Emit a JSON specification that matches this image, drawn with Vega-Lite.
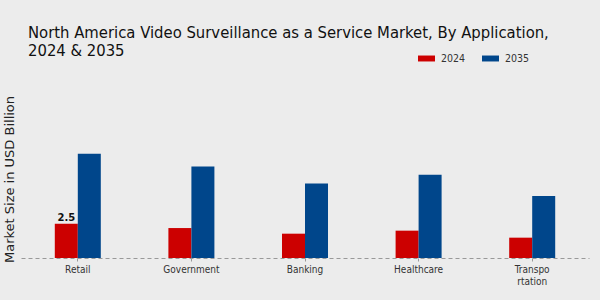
{
  "$schema": "https://vega.github.io/schema/vega-lite/v6.json",
  "autosize": "none",
  "width": 568,
  "height": 158,
  "padding": {"left": 21, "top": 100, "right": 11, "bottom": 42},
  "background": "#ececec",
  "title": {
    "text": ["North America Video Surveillance as a Service Market, By Application,", "2024 & 2035"],
    "anchor": "start",
    "frame": "group",
    "font": "DejaVu Sans Condensed",
    "fontSize": 16.5,
    "fontWeight": "normal",
    "color": "#111111",
    "dx": 7,
    "offset": -9,
    "lineHeight": 18
  },
  "config": {"view": {"stroke": null}},
  "data": {
    "values": [
      {"application": "Retail", "year": "2024", "value": 2.5, "label": "2.5"},
      {"application": "Retail", "year": "2035", "value": 7.59, "label": ""},
      {"application": "Government", "year": "2024", "value": 2.18, "label": ""},
      {"application": "Government", "year": "2035", "value": 6.66, "label": ""},
      {"application": "Banking", "year": "2024", "value": 1.77, "label": ""},
      {"application": "Banking", "year": "2035", "value": 5.43, "label": ""},
      {"application": "Healthcare", "year": "2024", "value": 1.99, "label": ""},
      {"application": "Healthcare", "year": "2035", "value": 6.06, "label": ""},
      {"application": "Transportation", "year": "2024", "value": 1.48, "label": ""},
      {"application": "Transportation", "year": "2035", "value": 4.51, "label": ""}
    ]
  },
  "encoding": {
    "x": {
      "field": "application",
      "type": "nominal",
      "sort": null,
      "scale": {"paddingInner": 0.595, "paddingOuter": 0.2975},
      "axis": {
        "title": null,
        "labelAngle": 0,
        "labelFont": "DejaVu Sans Condensed",
        "labelFontSize": 10,
        "labelColor": "#333333",
        "labelPadding": 3,
        "labelExpr": "datum.label == 'Transportation' ? ['Transpo', 'rtation'] : datum.label",
        "domainDash": [4, 3],
        "domainColor": "#999999",
        "domainWidth": 1,
        "ticks": true,
        "tickSize": 3,
        "tickColor": "#999999"
      }
    },
    "xOffset": {"field": "year", "type": "nominal", "sort": ["2024", "2035"]},
    "y": {
      "field": "value",
      "type": "quantitative",
      "scale": {"domain": [0, 11.5], "nice": false},
      "axis": {
        "title": "Market Size in USD Billion",
        "labels": false,
        "ticks": false,
        "grid": false,
        "domain": false,
        "titleFont": "DejaVu Sans",
        "titleFontSize": 13,
        "titleFontWeight": "normal",
        "titleColor": "#222222",
        "titleX": -12,
        "titleY": 79,
        "titleAlign": "center",
        "titleBaseline": "middle"
      }
    }
  },
  "layer": [
    {
      "mark": {"type": "bar"},
      "encoding": {
        "color": {
          "field": "year",
          "type": "nominal",
          "scale": {"domain": ["2024", "2035"], "range": ["#cc0000", "#00468b"]},
          "legend": {
            "title": null,
            "orient": "none",
            "direction": "horizontal",
            "legendX": 397,
            "legendY": -50,
            "padding": 0,
            "symbolType": "M-1,-0.35H1V0.35H-1Z",
            "symbolSize": 289,
            "symbolStrokeWidth": 0,
            "labelFont": "DejaVu Sans Condensed",
            "labelFontSize": 10.5,
            "labelColor": "#333333",
            "labelOffset": 6,
            "columnPadding": 16
          }
        }
      }
    },
    {
      "mark": {"type": "text", "dy": -6, "fontWeight": "bold", "fontSize": 10, "font": "DejaVu Sans", "color": "#111111"},
      "encoding": {"text": {"field": "label"}}
    }
  ]
}
